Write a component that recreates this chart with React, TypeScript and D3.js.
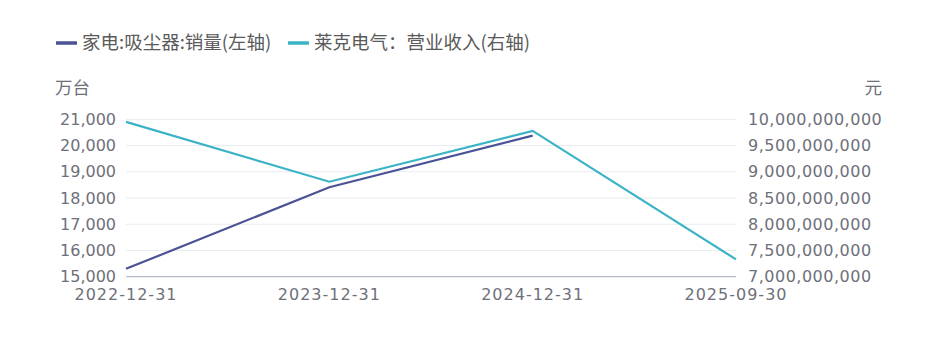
import React from "react";
import * as d3 from "d3";

const categories = ["2022-12-31", "2023-12-31", "2024-12-31", "2025-09-30"];
const salesVolume = [15300, 18410, 20380, null];
const revenue = [9950000000, 8810000000, 9780000000, 7330000000];
const leftTicks = [15000, 16000, 17000, 18000, 19000, 20000, 21000];
const rightTicks = [7000000000, 7500000000, 8000000000, 8500000000, 9000000000, 9500000000, 10000000000];
const seriesNames = ["家电:吸尘器:销量(左轴)", "莱克电气：营业收入(右轴)"];
const units = ["万台", "元"];

const W = 937;
const H = 339;
const left = 126;
const right = 736;
const top = 119.3;
const bottom = 276.7;
const cjk = "'Noto Sans CJK SC', sans-serif";
const num = "'DejaVu Sans', sans-serif";
const purple = "#4b5394";
const cyan = "#3bb3c6";
const textColor = "#6e7079";

export default function App() {
  const x = d3.scalePoint<string>().domain(categories).range([left, right]);
  const yL = d3.scaleLinear().domain([15000, 21000]).range([bottom, top]);
  const yR = d3.scaleLinear().domain([7e9, 1e10]).range([bottom, top]);
  const fmt = d3.format(",");

  const lineL = d3
    .line<number | null>()
    .defined((d) => d != null)
    .x((_, i) => x(categories[i])!)
    .y((d) => yL(d as number));
  const lineR = d3
    .line<number>()
    .x((_, i) => x(categories[i])!)
    .y((d) => yR(d));

  return (
    <svg width={W} height={H} style={{ position: "absolute", left: 0, top: 0, background: "#fff" }}>
      {/* legend */}
      <g fontFamily={cjk}>
        <line x1={56} x2={77} y1={43} y2={43} stroke={purple} strokeWidth={3.5} />
        <text x={82} y={43} dy="0.35em" fontSize={18.5} fill="#5a5a5a">{seriesNames[0]}</text>
        <line x1={288} x2={309} y1={43} y2={43} stroke={cyan} strokeWidth={3.5} />
        <text x={314} y={43} dy="0.35em" fontSize={18.5} fill="#5a5a5a">{seriesNames[1]}</text>
      </g>
      {/* unit labels */}
      <text x={55} y={88} dy="0.35em" fontSize={17.5} fill={textColor} fontFamily={cjk}>{units[0]}</text>
      <text x={882} y={88} dy="0.35em" fontSize={17.5} fill={textColor} textAnchor="end" fontFamily={cjk}>{units[1]}</text>
      {/* grid */}
      {leftTicks.slice(1).map((t) => (
        <line key={t} x1={left} x2={right} y1={yL(t)} y2={yL(t)} stroke="#e9ebf3" strokeWidth={1} />
      ))}
      <line x1={left} x2={right} y1={bottom} y2={bottom} stroke="#b7bbcf" strokeWidth={1.2} />
      {/* left axis labels */}
      {leftTicks.map((t) => (
        <text key={t} x={116} y={yL(t)} dy="0.35em" textAnchor="end" fontSize={16} fill={textColor} fontFamily={num}>
          {fmt(t)}
        </text>
      ))}
      {/* right axis labels */}
      {rightTicks.map((t) => (
        <text key={t} x={748} y={yR(t)} dy="0.35em" textAnchor="start" fontSize={16} fill={textColor} fontFamily={num} letterSpacing={0.5}>
          {fmt(t)}
        </text>
      ))}
      {/* x labels */}
      {categories.map((c) => (
        <text key={c} x={x(c)!} y={294.5} dy="0.35em" textAnchor="middle" fontSize={16} fill={textColor} fontFamily={num} letterSpacing={1}>
          {c}
        </text>
      ))}
      {/* lines */}
      <path d={lineR(revenue) || ""} fill="none" stroke={cyan} strokeWidth={2.2} />
      <path d={lineL(salesVolume) || ""} fill="none" stroke={purple} strokeWidth={2.2} />
    </svg>
  );
}
